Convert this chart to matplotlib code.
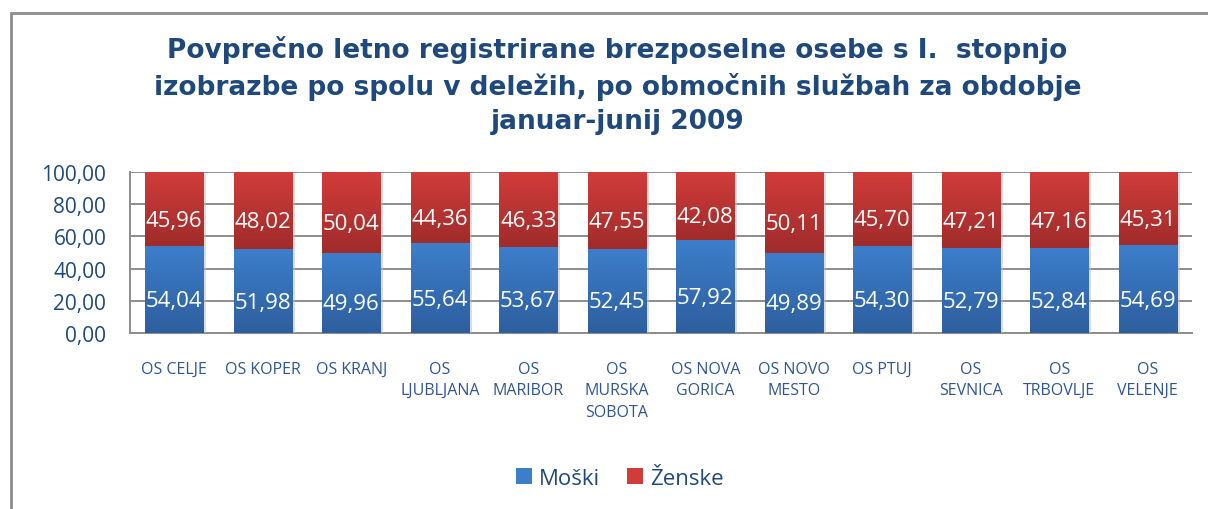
import numpy as np
import matplotlib
matplotlib.use('Agg')
import matplotlib.pyplot as plt
import matplotlib.patheffects as pe
from matplotlib.colors import LinearSegmentedColormap
from matplotlib.patches import Rectangle

# Podatki
categories = ['OS CELJE', 'OS KOPER', 'OS KRANJ', 'OS\nLJUBLJANA', 'OS\nMARIBOR',
              'OS\nMURSKA\nSOBOTA', 'OS NOVA\nGORICA', 'OS NOVO\nMESTO', 'OS PTUJ',
              'OS\nSEVNICA', 'OS\nTRBOVLJE', 'OS\nVELENJE']
moski = [54.04, 51.98, 49.96, 55.64, 53.67, 52.45, 57.92, 49.89, 54.30, 52.79, 52.84, 54.69]
zenske = [45.96, 48.02, 50.04, 44.36, 46.33, 47.55, 42.08, 50.11, 45.70, 47.21, 47.16, 45.31]
yticks = [0, 20, 40, 60, 80, 100]

title = ('Povprečno letno registrirane brezposelne osebe s I.  stopnjo\n'
         'izobrazbe po spolu v deležih, po območnih službah za obdobje\n'
         'januar-junij 2009')

text_col = '#1F497D'
blue_top, blue_bot = '#3D7ECB', '#2D5F9E'
red_top, red_bot = '#D13C3A', '#A02C2B'

fig = plt.figure(figsize=(12.08, 5.10), dpi=100)
ax = fig.add_axes([0.1076, 0.345, 0.8792, 0.316])

x = np.arange(len(categories))
w = 0.66
shadow = [pe.SimplePatchShadow(offset=(2, -1.5), shadow_rgbFace='#BBBBBB', alpha=0.5), pe.Normal()]
b1 = ax.bar(x, moski, w, color=blue_top, zorder=3, path_effects=shadow, label='Moški')
b2 = ax.bar(x, zenske, w, bottom=moski, color=red_top, zorder=3, path_effects=shadow, label='Ženske')

# gradient na stolpcih
grad = np.linspace(0, 1, 100).reshape(-1, 1)
for bars, top, bot in [(b1, blue_top, blue_bot), (b2, red_top, red_bot)]:
    cmap = LinearSegmentedColormap.from_list('g', [bot, top])
    for p in bars:
        x0, y0 = p.get_x(), p.get_y()
        im = ax.imshow(grad, cmap=cmap, aspect='auto', origin='lower',
                       extent=[x0, x0 + p.get_width(), y0, y0 + p.get_height()], zorder=4)
        im.set_clip_path(p)

# oznake vrednosti
for i in range(len(categories)):
    ax.annotate(f'{moski[i]:.2f}'.replace('.', ','), (x[i], moski[i] / 2),
                xytext=(0, -8), textcoords='offset points', ha='center', va='center',
                color='white', fontsize=16, family='Open Sans', zorder=5)
    ax.annotate(f'{zenske[i]:.2f}'.replace('.', ','), (x[i], moski[i] + zenske[i] / 2),
                xytext=(0, -8), textcoords='offset points', ha='center', va='center',
                color='white', fontsize=16, family='Open Sans', zorder=5)

ax.set_xlim(-0.5, len(categories) - 0.5)
ax.set_ylim(0, 100)
ax.set_yticks(yticks)
ax.set_yticklabels([f'{v:.2f}'.replace('.', ',') for v in yticks],
                   fontsize=15, color=text_col, family='Open Sans')
ax.set_xticks(x)
ax.set_xticklabels(categories, fontsize=11.5, color='#2F5597', family='Open Sans',
                   linespacing=1.45, va='top')
ax.tick_params(axis='y', length=0, pad=17)
ax.tick_params(axis='x', length=0, pad=20)
ax.grid(axis='y', color='#8C8C8C', linewidth=1.4, zorder=0)
for s in ['top', 'right']:
    ax.spines[s].set_visible(False)
for s in ['left', 'bottom']:
    ax.spines[s].set_color('#8C8C8C')
    ax.spines[s].set_linewidth(1.4)

fig.text(0.511, 0.93, title, ha='center', va='top', fontsize=19, fontweight='bold',
         color=text_col, family='DejaVu Sans', linespacing=1.42)

leg = fig.legend(handles=[b1, b2], loc='center', bbox_to_anchor=(0.513, 0.06), ncol=2,
                 frameon=False, handlelength=0.75, handleheight=0.75, handletextpad=0.3,
                 columnspacing=1.2, prop={'family': 'Open Sans', 'size': 16})
for t in leg.get_texts():
    t.set_color(text_col)
for h in leg.legend_handles:
    h.set_path_effects([])

# okvir
fig.add_artist(Rectangle((10.5 / 1208, -0.1), 1.2, 1.1 - 13.5 / 510, transform=fig.transFigure,
                         fill=False, edgecolor='#8C8C8C', linewidth=2))

fig.savefig('out.png', dpi=100)
